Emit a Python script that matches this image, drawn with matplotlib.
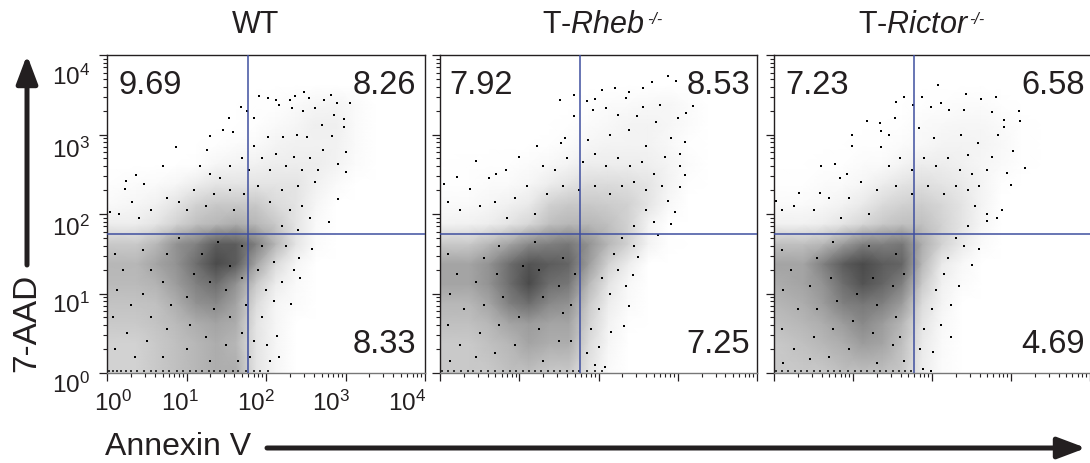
import matplotlib
matplotlib.use("Agg")
import matplotlib.pyplot as plt
import numpy as np
from matplotlib.ticker import LogLocator, NullFormatter
from matplotlib.colors import LinearSegmentedColormap
from matplotlib.patches import FancyArrowPatch

plt.rcParams['font.family'] = ['Liberation Sans', 'DejaVu Sans']
plt.rcParams['mathtext.fontset'] = 'custom'
plt.rcParams['mathtext.rm'] = 'Liberation Sans'
plt.rcParams['mathtext.it'] = 'Liberation Sans:italic'
plt.rcParams['mathtext.default'] = 'regular'

# ---------- data ----------
titles = ['WT', r'T-$\mathit{Rheb}$', r'T-$\mathit{Rictor}$']
title_sup = ['', '-/-', '-/-']
quadrant_x = [59, 59, 59]
quadrant_y = [56, 56, 56]
ul_labels = ['9.69', '7.92', '7.23']
ur_labels = ['8.26', '8.53', '6.58']
lr_labels = ['8.33', '7.25', '4.69']
tick_text = ['$10^{0}$', '$10^{1}$', '$10^{2}$', '$10^{3}$', '$10^{4}$']

# estimated event density (0-10), rows = log10(7-AAD), cols = log10(Annexin V)
grid_logx = [0, .375, .625, .875, 1.125, 1.375, 1.625, 1.875, 2.125, 2.375, 2.625, 2.875, 3.125, 3.375]
grid_logy = [0, .375, .625, .875, 1.125, 1.375, 1.625, 1.875, 2.125, 2.375, 2.625, 2.875, 3.125, 3.375, 3.625]
density_wt = [
    [2.5, 2.5, 3, 3.5, 4, 4.5, 4.5, 1.5, .5],
    [2.5, 2.5, 3, 3.5, 4, 4.5, 4, 1.5, .5],
    [3, 3, 3.3, 3.8, 4.5, 5, 4.5, 1.5, .5],
    [3.3, 3.3, 3.5, 4.5, 6, 6.5, 5, 2, .5, .2],
    [3.8, 3.8, 4.2, 5.5, 7, 8, 6, 3, 1, .3],
    [4, 4, 5, 6, 8, 10, 9, 5, 2, .5],
    [3, 3, 4, 6, 7, 9, 9, 7, 4, 1.5, .2],
    [1, 1, 1.5, 2.5, 3.5, 4, 4.5, 4, 3, 1.5, .3],
    [.3, .5, .8, 1.5, 2.5, 3, 3, 3, 2, 1.5, .5],
    [.1, .2, .3, .5, 1, 1.5, 1.5, 1.5, 1.5, 1.5, .8, .3],
    [0, 0, 0, 0, .1, .5, .7, .8, 1, 1, 1, .7, .2],
    [0, 0, 0, 0, 0, .1, .2, .3, .6, .8, .8, .8, .3],
    [0, 0, 0, 0, 0, 0, 0, .1, .3, .5, .9, .9, .3],
    [0, 0, 0, 0, 0, 0, 0, .05, .1, .3, .5, .6, .3],
    [],
]
density_rheb = [
    [3, 3, 3, 3.5, 3.5, 3, 3, 1.5, .3],
    [3, 3, 3.5, 4, 5, 4.5, 4.5, 2, .5],
    [3.5, 3.5, 4, 5, 5.5, 5, 5, 2.5, .7, .1],
    [4, 4, 5, 7, 8, 6.5, 6, 3, 1, .3],
    [5, 5, 6, 8, 10, 8, 7.5, 4, 1.5, .4],
    [5, 5, 6, 8, 9.5, 9, 8.5, 5.5, 2.5, 1],
    [3, 3, 4, 5, 6.5, 7, 7.5, 6, 4, 2.5, .7, .1],
    [.7, .8, 1, 1.5, 2.2, 3.5, 4, 4, 3.5, 2.5, .7],
    [.3, .3, .5, .8, 1.2, 2.5, 3, 3, 2.8, 2.5, 1.5, .4],
    [.1, .1, .2, .3, .5, 1, 1.5, 2, 2, 1.8, 1.5, .7, .1],
    [0, .05, .05, .1, .2, .4, .6, 1, 1, 1, .9, .6, .2],
    [0, 0, 0, 0, 0, .1, .2, .5, .7, .7, .7, .4, .1],
    [0, 0, 0, 0, 0, 0, .05, .2, .4, .6, .7, .5, .2],
    [0, 0, 0, 0, 0, 0, 0, .1, .2, .3, .4, .5, .2],
    [],
]
density_rictor = [
    [3, 3, 3, 3.5, 3.5, 3.5, 3, 1, .2],
    [3, 3.5, 4, 4.5, 5.5, 5, 3.5, 1.2, .3],
    [3.5, 4, 4.5, 5.5, 6.5, 5.5, 4, 1.5, .4],
    [4, 4.5, 5.5, 7, 7.5, 7, 5.5, 2, .6],
    [4.5, 5, 6, 8, 9.5, 8.5, 7, 3, .8, .2],
    [5, 5, 7, 9, 10, 9, 8.5, 4, 1.2, .4],
    [3.5, 3.5, 4, 5.5, 7, 7, 7.5, 4.5, 2.5, 1.2, .3],
    [.8, .8, 1, 1.5, 2.2, 3, 3.5, 3.5, 2.5, 1.5, .5],
    [.3, .3, .4, .7, 1.2, 2, 2.5, 2.8, 2.2, 1.5, .6],
    [.05, .1, .2, .3, .5, 1, 1.5, 1.8, 1.5, 1.2, .6, .1],
    [0, 0, .05, .1, .2, .3, .6, 1, 1, .8, .5, .3, .1],
    [0, 0, 0, 0, .05, .1, .2, .4, .6, .7, .6, .4, .1],
    [0, 0, 0, 0, 0, .03, .1, .3, .4, .5, .5, .3, .1],
    [0, 0, 0, 0, 0, 0, .03, .1, .15, .2, .2, .1],
    [],
]

# individually visible events, as (log10 Annexin V, log10 7-AAD)
events_wt = [
    (1.91,3.49),(2.03,3.46),(2.12,3.44),(2.30,3.43),(2.37,3.49),(2.48,3.53),(2.54,3.46),(2.73,3.43),
    (2.82,3.50),(2.89,3.40),(3.06,3.39),(1.68,3.35),(1.76,3.30),(1.54,3.21),(1.85,3.21),(2.16,3.37),
    (2.33,3.33),(2.47,3.30),(2.62,3.33),(2.85,3.24),(2.98,3.20),(2.98,3.09),(2.70,3.12),(2.83,2.98),
    (2.39,2.99),(2.52,2.97),(2.22,2.97),(2.03,2.97),(1.85,2.86),(1.59,3.03),(1.46,3.06),(1.29,2.98),
    (0.87,2.84),(0.70,2.61),(0.36,2.49),(0.24,2.42),(0.47,2.38),(0.23,2.32),(1.26,2.80),(1.17,2.61),
    (3.00,2.78),(3.00,2.53),(2.90,2.63),(2.90,2.19),(2.79,1.90),(2.58,1.56),(2.43,1.19),(2.31,0.87),
    (2.14,0.47),(2.16,0.20),(2.01,0.35),(0.15,2.00),(0.31,2.15),(0.04,2.03),
    (1.30,2.50),(1.42,2.45),(1.55,2.60),(1.70,2.70),(1.78,2.55),(1.95,2.70),(2.05,2.55),(2.12,2.75),
    (2.25,2.60),(2.35,2.72),(2.45,2.55),(2.55,2.70),(2.66,2.55),(2.72,2.80),(2.62,2.40),(2.40,2.35),
    (2.20,2.30),(2.05,2.15),(1.90,2.35),(1.72,2.25),(1.55,2.30),(1.35,2.25),(1.10,2.30),(0.90,2.15),
    (0.75,2.20),(0.55,2.05),(0.40,1.95),(1.00,2.05),(1.25,2.10),(1.60,2.05),(2.30,2.05),(2.45,2.10),
    (2.55,1.95),(2.40,1.80),(2.20,1.85),(2.25,1.60),(2.42,1.45),(2.35,1.30),(2.10,1.40),(2.20,1.15),
    (2.00,1.05),(2.10,0.90),(1.95,0.70),(1.85,0.40),(1.80,0.20),(2.05,0.15),
    (0.10,1.50),(0.20,1.30),(0.12,1.05),(0.30,0.85),(0.08,0.70),(0.25,0.50),(0.10,0.30),(0.35,0.20),
    (0.50,0.40),(0.55,0.70),(0.45,1.00),(0.55,1.30),(0.45,1.55),(0.75,1.50),(0.70,1.15),(0.80,0.85),
    (0.75,0.55),(0.70,0.20),(1.00,0.30),(1.05,0.60),(1.00,0.95),(1.10,1.25),(1.20,1.50),(1.30,1.15),
    (1.35,0.80),(1.25,0.45),(1.30,0.15),(1.50,0.35),(1.55,0.70),(1.50,1.05),(1.55,1.35),(1.40,1.65),
    (1.70,1.60),(1.70,1.20),(1.75,0.85),(1.70,0.50),(1.65,0.15),(1.90,1.30),(1.95,1.60),(0.90,1.70),
]
events_rheb = [
    (2.88,3.73),(2.98,3.67),(2.67,3.66),(2.56,3.58),(2.39,3.54),(2.21,3.58),(2.04,3.56),(3.19,3.36),
    (3.10,3.27),(3.00,3.21),(2.77,3.37),(2.56,3.35),(2.35,3.46),(2.10,3.33),(1.95,3.45),(1.85,3.42),
    (1.69,3.50),(1.51,3.44),(1.69,3.23),(1.93,3.31),(2.25,3.25),(2.48,3.23),(2.73,3.16),(3.09,2.91),
    (2.92,2.95),(2.60,2.85),(2.39,3.06),(2.14,3.00),(1.87,2.93),(1.58,2.95),(1.53,2.89),(1.23,2.86),
    (1.00,2.72),(0.45,2.67),(0.21,2.47),(0.83,2.55),(0.71,2.50),(0.62,2.45),(0.05,2.38),(0.38,2.32),
    (3.03,2.76),(3.03,2.60),(3.09,2.49),(3.03,2.34),(2.84,2.72),(2.88,2.16),(2.96,2.03),(2.92,1.87),
    (2.75,1.74),(2.50,1.46),(2.44,1.23),(2.35,1.10),(2.39,0.84),(2.32,0.59),(2.16,0.52),(2.08,0.08),
    (2.00,0.33),
    (1.30,2.60),(1.45,2.55),(1.60,2.70),(1.80,2.65),(1.95,2.75),(2.10,2.60),(2.25,2.70),(2.40,2.60),
    (2.55,2.65),(2.70,2.50),(2.80,2.35),(2.60,2.30),(2.45,2.40),(2.30,2.35),(2.15,2.25),(1.95,2.35),
    (1.75,2.30),(1.55,2.35),(1.35,2.25),(1.10,2.35),(0.95,2.20),(0.70,2.15),(0.50,2.10),(0.25,2.05),
    (0.10,2.15),(0.85,1.95),(1.20,2.00),(2.60,2.05),(2.70,1.90),(2.45,1.85),(2.30,1.70),(2.45,1.60),
    (2.20,1.50),(2.25,1.30),(2.05,1.20),(2.15,1.00),(2.00,0.80),(1.90,0.55),(1.85,0.25),(1.95,0.10),
    (0.10,1.50),(0.22,1.25),(0.12,1.00),(0.30,0.80),(0.10,0.60),(0.25,0.35),(0.12,0.15),(0.45,0.20),
    (0.50,0.50),(0.55,0.85),(0.45,1.15),(0.55,1.45),(0.75,1.60),(0.72,1.25),(0.80,0.95),(0.75,0.60),
    (0.70,0.25),(0.95,0.35),(1.00,0.70),(1.05,1.35),(1.20,1.65),(1.25,1.30),(1.30,0.95),(1.25,0.55),
    (1.30,0.15),(1.50,0.40),(1.55,0.75),(1.50,1.10),(1.55,1.45),(1.70,1.25),(1.65,0.85),(1.65,0.40),
]
events_rictor = [
    (2.07,3.62),(2.43,3.51),(2.81,3.47),(2.62,3.45),(1.87,3.47),(1.64,3.47),(1.55,3.41),(2.11,3.39),
    (3.10,3.30),(3.11,3.17),(2.91,3.18),(2.91,3.10),(2.76,3.28),(2.41,3.31),(2.22,3.31),(1.99,3.35),
    (1.76,3.37),(1.53,3.21),(1.18,3.17),(1.34,3.15),(0.99,3.00),(0.99,2.86),(1.35,3.04),(1.46,2.99),
    (1.36,2.84),(0.77,2.63),(0.59,2.60),(0.92,2.50),(0.84,2.45),(0.32,2.27),(0.03,2.16),(0.58,2.26),
    (3.02,2.79),(3.18,2.58),(2.95,2.51),(3.00,2.37),(2.83,3.00),(2.58,2.89),(2.37,3.00),(2.03,2.95),
    (1.84,3.08),(2.45,2.74),(2.76,2.72),(2.70,2.55),(2.89,2.05),(2.82,1.95),(2.70,1.91),(2.60,1.56),
    (2.51,1.36),(2.34,1.10),(2.24,0.85),(2.24,0.45),(2.11,0.61),(2.01,0.26),(1.99,0.03),(1.88,0.05),
    (1.45,2.60),(1.60,2.70),(1.75,2.55),(1.90,2.70),(2.05,2.60),(2.20,2.70),(2.35,2.55),(2.50,2.50),
    (2.60,2.35),(2.45,2.30),(2.30,2.35),(2.15,2.25),(1.95,2.35),(1.75,2.25),(1.55,2.35),(1.30,2.30),
    (1.10,2.40),(0.95,2.20),(0.70,2.20),(0.50,2.05),(0.25,2.10),(0.10,2.05),(0.85,1.95),(1.20,2.00),
    (2.55,2.10),(2.70,2.00),(2.45,1.85),(2.30,1.70),(2.40,1.60),(2.20,1.45),(2.15,1.25),(2.05,1.05),
    (2.00,0.80),(1.90,0.55),(1.85,0.30),
    (0.10,1.55),(0.22,1.30),(0.12,1.05),(0.30,0.80),(0.10,0.55),(0.25,0.30),(0.12,0.12),(0.45,0.18),
    (0.50,0.45),(0.55,0.80),(0.45,1.10),(0.55,1.45),(0.75,1.65),(0.72,1.20),(0.80,0.90),(0.75,0.55),
    (0.70,0.20),(0.95,0.30),(1.00,0.65),(1.05,1.00),(1.20,1.60),(1.25,1.20),(1.30,0.85),(1.25,0.50),
    (1.30,0.12),(1.50,0.35),(1.55,0.70),(1.50,1.10),(1.55,1.50),(1.65,1.25),(1.60,0.45),(1.65,0.15),
]
# events piled on the lower axis, as log10 Annexin V
bottom_wt = [.03, .08, .13, .18, .24, .30, .38, .46, .55, .62, .70, .78, .88, .95, 1.05, 1.12, 1.20, 1.28, 1.35, 1.42, 1.50, 1.58, 1.65, 1.75, 1.85, 1.92, 2.02]
bottom_rheb = [.03, .10, .18, .26, .35, .42, .52, .60, .70, .80, .88, .96, 1.05, 1.12, 1.20, 1.28, 1.36, 1.44, 1.52, 1.60, 1.68, 1.75, 1.85, 1.95, 2.05]
bottom_rictor = [.03, .10, .18, .26, .34, .42, .50, .58, .68, .76, .84, .94, 1.02, 1.10, 1.18, 1.26, 1.34, 1.42, 1.50, 1.58, 1.66, 1.74]

panel_density = [density_wt, density_rheb, density_rictor]
panel_events = [events_wt, events_rheb, events_rictor]
panel_bottom = [bottom_wt, bottom_rheb, bottom_rictor]

# ---------- layout ----------
W, H = 1090, 464
INK = '#231f20'
BLUE = '#3f4f9f'
fig = plt.figure(figsize=(W / 100, H / 100), dpi=100)
panel_px = [(107, 425), (440, 757), (774, 1090)]
top_px, bottom_px = 56, 374
title_x = [232, 542, 858]
sup_x = [0, 647, 969]
ul_x = [118, 449, 785]
right_x = [416, 750, 1085]
cmap = LinearSegmentedColormap.from_list('ink', ['#ffffff', '#4a4a4a'])


def fx(x):
    return x / W


def fy(y):
    return 1 - y / H


for i, (l, r) in enumerate(panel_px):
    ax = fig.add_axes([fx(l), fy(bottom_px), (r - l) / W, (bottom_px - top_px) / H])
    ax.set_xscale('log')
    ax.set_yscale('log')
    ax.set_xlim(1, 1e4)
    ax.set_ylim(1, 1e4)
    z = np.array([row + [0] * (len(grid_logx) - len(row)) for row in panel_density[i]], dtype=float)
    X, Y = np.meshgrid(10 ** np.array(grid_logx), 10 ** np.array(grid_logy))
    ax.pcolormesh(X, Y, z, shading='gouraud', cmap=cmap, vmin=0, vmax=10, zorder=1)
    ev = np.array(panel_events[i])
    ax.scatter(10 ** ev[:, 0], 10 ** ev[:, 1], s=2.0, c='black', marker='s', linewidths=0, zorder=2)
    bx = 10 ** np.array(panel_bottom[i])
    ax.scatter(bx, np.full(bx.shape, 1.05), s=2.0, c='#333333', marker='s', linewidths=0, zorder=2)
    ax.axvline(quadrant_x[i], color=BLUE, lw=1.1, zorder=3)
    ax.axhline(quadrant_y[i], color=BLUE, lw=1.1, zorder=3)

    for s in ax.spines.values():
        s.set_color(INK)
        s.set_linewidth(1.0)
    ax.spines['bottom'].set_color('#777777')
    if i == 2:
        ax.spines['right'].set_visible(False)
    for axis in (ax.xaxis, ax.yaxis):
        axis.set_major_locator(LogLocator(base=10, numticks=10))
        axis.set_minor_locator(LogLocator(base=10, subs=range(2, 10), numticks=10))
        axis.set_major_formatter(NullFormatter())
        axis.set_minor_formatter(NullFormatter())
    ax.tick_params(which='major', length=6, width=0.9, color=INK)
    ax.tick_params(which='minor', length=3, width=0.8, color=INK)

    fig.text(fx(title_x[i]), fy(25), titles[i], ha='left', va='center', fontsize=22, color=INK)
    if title_sup[i]:
        fig.text(fx(sup_x[i]), fy(19), title_sup[i], ha='left', va='center', fontsize=11.5, style='italic', color=INK)
    fig.text(fx(ul_x[i]), fy(85), ul_labels[i], ha='left', va='center', fontsize=23.5, color=INK)
    fig.text(fx(right_x[i]), fy(85), ur_labels[i], ha='right', va='center', fontsize=23.5, color=INK)
    fig.text(fx(right_x[i]), fy(345), lr_labels[i], ha='right', va='center', fontsize=23.5, color=INK)

# axis labels placed where the reference puts them
for y, t in zip([385, 305, 228, 150, 77], tick_text):
    fig.text(fx(90), fy(y), t, ha='right', va='center', fontsize=17.5, color=INK)
for x, t in zip([113, 180, 256, 331, 407], tick_text):
    fig.text(fx(x), fy(403), t, ha='center', va='center', fontsize=17.5, color=INK)

fig.text(fx(105), fy(447), 'Annexin V', ha='left', va='center', fontsize=23, color=INK)
fig.text(fx(27), fy(323), '7-AAD', ha='center', va='center', rotation=90, fontsize=24, color=INK)

arrow = dict(arrowstyle='-|>,head_length=0.85,head_width=0.32', lw=3.6, color=INK, shrinkA=0, shrinkB=0,
             mutation_scale=20)
fig.add_artist(FancyArrowPatch((fx(27), fy(266)), (fx(27), fy(56)), transform=fig.transFigure, **arrow))
fig.add_artist(FancyArrowPatch((fx(267), fy(449)), (fx(1086), fy(449)), transform=fig.transFigure, **arrow))

fig.savefig('out.png', dpi=100)
